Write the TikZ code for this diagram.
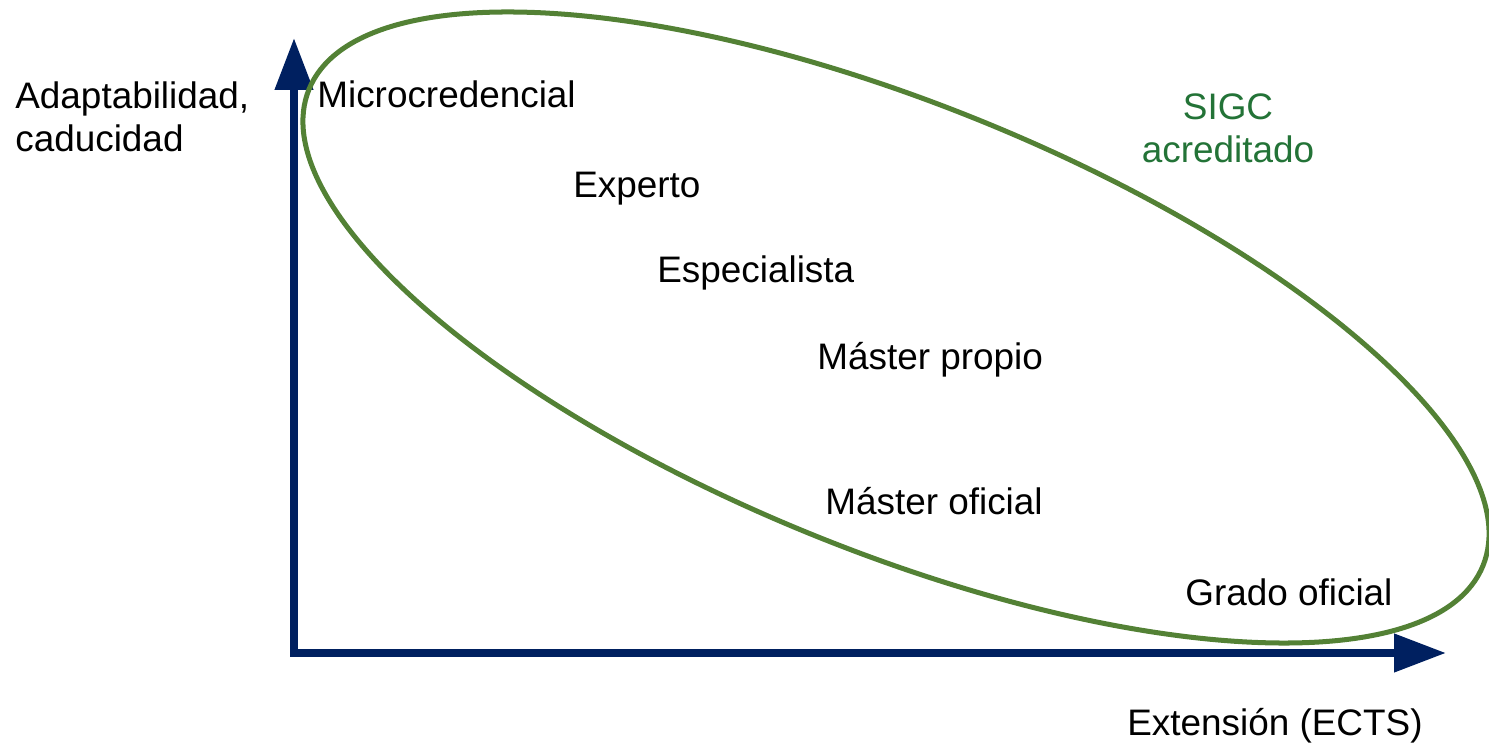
\documentclass[tikz,border=0pt]{standalone}
\usepackage{fontspec}
\setmainfont{Liberation Sans}
\usetikzlibrary{arrows.meta}
\definecolor{axisblue}{HTML}{002060}
\definecolor{ovalgreen}{HTML}{538135}
\definecolor{sigcgreen}{RGB}{35,115,55}

\begin{document}
\begin{tikzpicture}[x=0.02cm,y=0.02cm,
  every node/.style={font=\fontsize{21}{25}\selectfont,inner sep=0pt,anchor=base west},
  axis/.style={draw=axisblue,line width=4.5pt,line cap=rect},
  >={Triangle[length=29.6pt,width=21pt]}]
  \useasboundingbox (0,0) rectangle (1489,751);
  % axes
  \coordinate (o) at (294,98); \coordinate (ytip) at (294,713);
  \coordinate (xtip) at (1446,98);
  \path[axis,->] (o) -- (ytip); \path[axis,->] (o) -- (xtip);
  % oval
  \draw[ovalgreen,line width=2.85pt,shift={(896,423.5)},rotate=-22.08]
  (0,0) ellipse [x radius=633.5,y radius=223.4];
  % labels
  \node (ylab) at (15,599) [align=left] {Adaptabilidad,\\caducidad};
  \node (xlab) at (1127,15) {Extensión (ECTS)}; \node (sigc) at
  (1228,588) [anchor=base,align=center,text=sigcgreen]
  {SIGC\\acreditado}; \node (micro) at (317,643) {Microcredencial};
  \node (experto) at (573,553) {Experto}; \node (espec) at (657,468)
  {Especialista}; \node (mpropio) at (817,381) {Máster propio};
  \node (moficial) at (825,236) {Máster oficial}; \node (grado) at
  (1185,145) {Grado oficial};
\end{tikzpicture}
\end{document}
